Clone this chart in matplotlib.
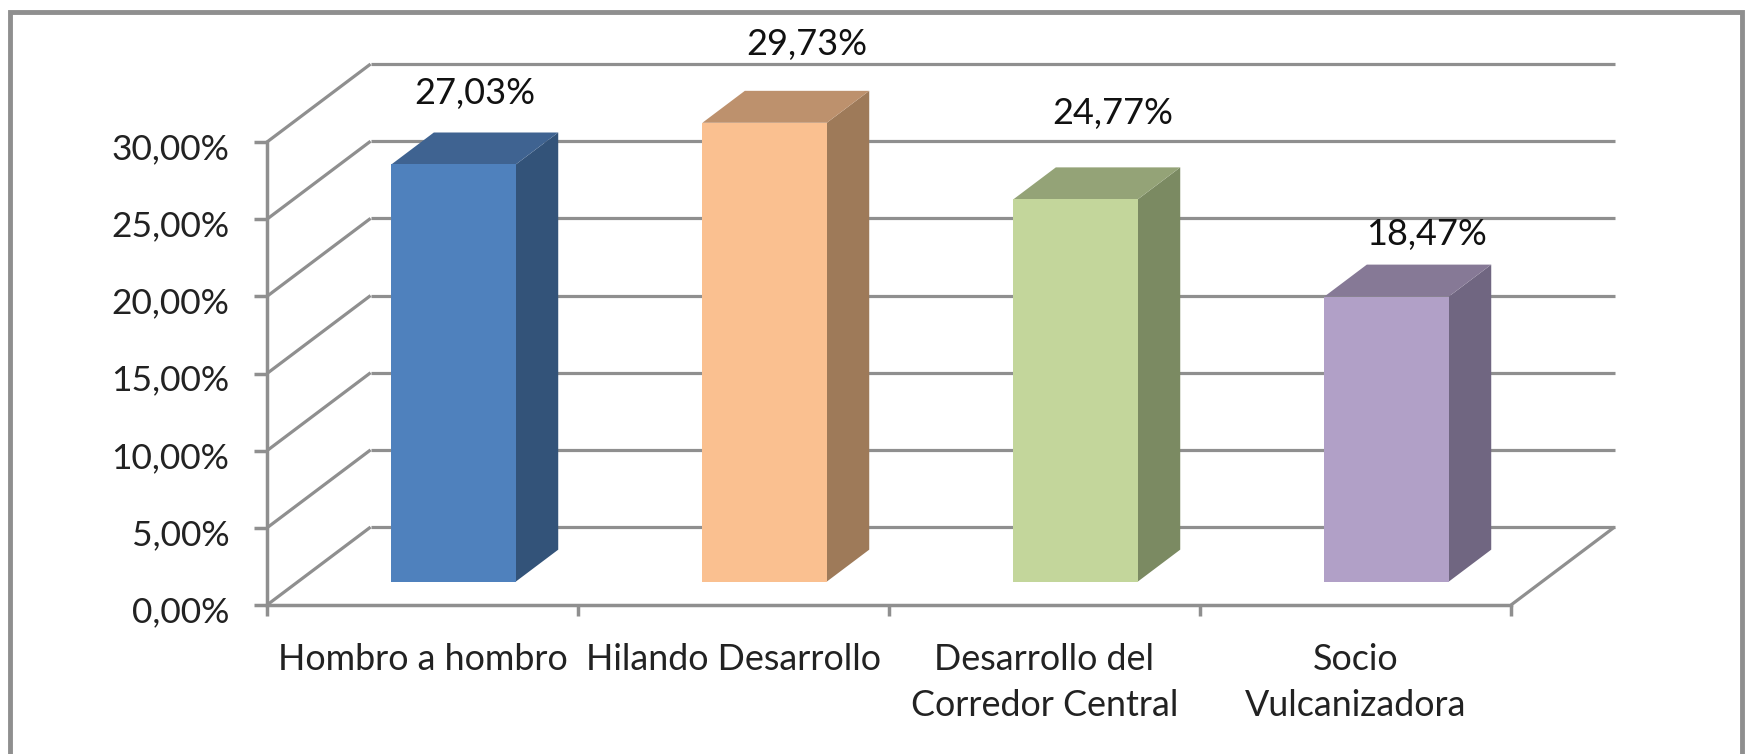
import matplotlib
matplotlib.use('Agg')
import matplotlib.pyplot as plt
from matplotlib.patches import Rectangle
from matplotlib.transforms import ScaledTranslation

categorias = ['Hombro a hombro', 'Hilando Desarrollo', 'Desarrollo del\nCorredor Central', 'Socio\nVulcanizadora']
valores = [27.03, 29.73, 24.77, 18.47]
etiquetas = ['27,03%', '29,73%', '24,77%', '18,47%']
eje_y = [0, 5, 10, 15, 20, 25, 30]

cara = ['#4f81bd', '#fac090', '#c3d69b', '#b1a0c7']
tapa = ['#3f6391', '#bd916d', '#94a377', '#867996']
lado = ['#335379', '#9e7a59', '#7b8a62', '#706681']

GRIS = '#8f8f8f'
# fake 3d: how far the back wall sits from the front plane, in data units
DX = 0.333
DY = 5.05
D1, D2 = 0.30, 0.71
ANCHO = 0.40

plt.rcParams['font.family'] = ['Lato', 'DejaVu Sans']

W, H = 1746, 754
fig = plt.figure(figsize=(W / 100, H / 100), dpi=100)
ax = fig.add_axes([267 / W, (H - 605) / H, (1511 - 267) / W, (605 - 142) / H])
ax.set_xlim(0, 4)
ax.set_ylim(0, 30)
ax.patch.set_visible(False)

def p(x, y, d):
    return x + d * DX, y + d * DY

def poly(puntos, color, z=3):
    xs = [q[0] for q in puntos]
    ys = [q[1] for q in puntos]
    ax.fill(xs, ys, color=color, lw=0, zorder=z, clip_on=False)

def linea(a, b):
    ax.plot([a[0], b[0]], [a[1], b[1]], color=GRIS, lw=2.3, zorder=1, clip_on=False, solid_capstyle='butt')

# back wall lines + side wall
for v in eje_y:
    linea(p(0, v, 0), p(0, v, 1))
    linea(p(0, v, 1), p(4, v, 1))
linea(p(4, 0, 0), p(4, 0, 1))

# bars
for i, v in enumerate(valores):
    x0 = i + 0.5 - ANCHO / 2
    x1 = i + 0.5 + ANCHO / 2
    poly([p(x1, 0, D1), p(x1, 0, D2), p(x1, v, D2), p(x1, v, D1)], lado[i])
    poly([p(x0, v, D1), p(x1, v, D1), p(x1, v, D2), p(x0, v, D2)], tapa[i])
    poly([p(x0, 0, D1), p(x1, 0, D1), p(x1, v, D1), p(x0, v, D1)], cara[i])

# data labels, offsets in pixels from the front top of the bar
off_x = [19, 38, 33, 36]
off_y = [64, 70, 77, 56]
for i, v in enumerate(valores):
    xt, yt = p(i + 0.5, v, D1)
    ax.annotate(etiquetas[i], (xt, yt), xytext=(off_x[i] * 1.1135 * 0.72, off_y[i] * 1.1135 * 0.72),
                textcoords='offset points', ha='center', va='center', fontsize=26,
                color='#111111', zorder=5, annotation_clip=False)

for s in ['top', 'right']:
    ax.spines[s].set_visible(False)
for s in ['left', 'bottom']:
    ax.spines[s].set_color(GRIS)
    ax.spines[s].set_linewidth(2.5)

ax.set_yticks(eje_y)
ax.set_yticklabels(['{:.2f}%'.format(v).replace('.', ',') for v in eje_y])
ax.tick_params(axis='y', length=9.5, width=2.5, color=GRIS, labelsize=25.5, pad=17.5, labelcolor='#222222')
# the y labels sit a little under their ticks
bajar = ScaledTranslation(0, -3 / 72, fig.dpi_scale_trans)
for t in ax.get_yticklabels():
    t.set_transform(t.get_transform() + bajar)
ax.set_xticks([0, 1, 2, 3, 4])
ax.set_xticklabels([])
ax.tick_params(axis='x', which='major', length=8, width=2.5, color=GRIS)
ax.set_xticks([0.5, 1.5, 2.5, 3.5], minor=True)
ax.set_xticklabels(categorias, minor=True, fontsize=25.8, color='#222222', linespacing=1.5)
ax.tick_params(axis='x', which='minor', length=0, pad=27)

# outer frame, bottom edge is cut off by the image
fig.add_artist(Rectangle((9.5 / W, -0.05), (1742 - 9.5) / W, 1.05 - 11.5 / H, transform=fig.transFigure,
                         fill=False, edgecolor=GRIS, lw=3.5))

fig.savefig('out.png', dpi=100)
